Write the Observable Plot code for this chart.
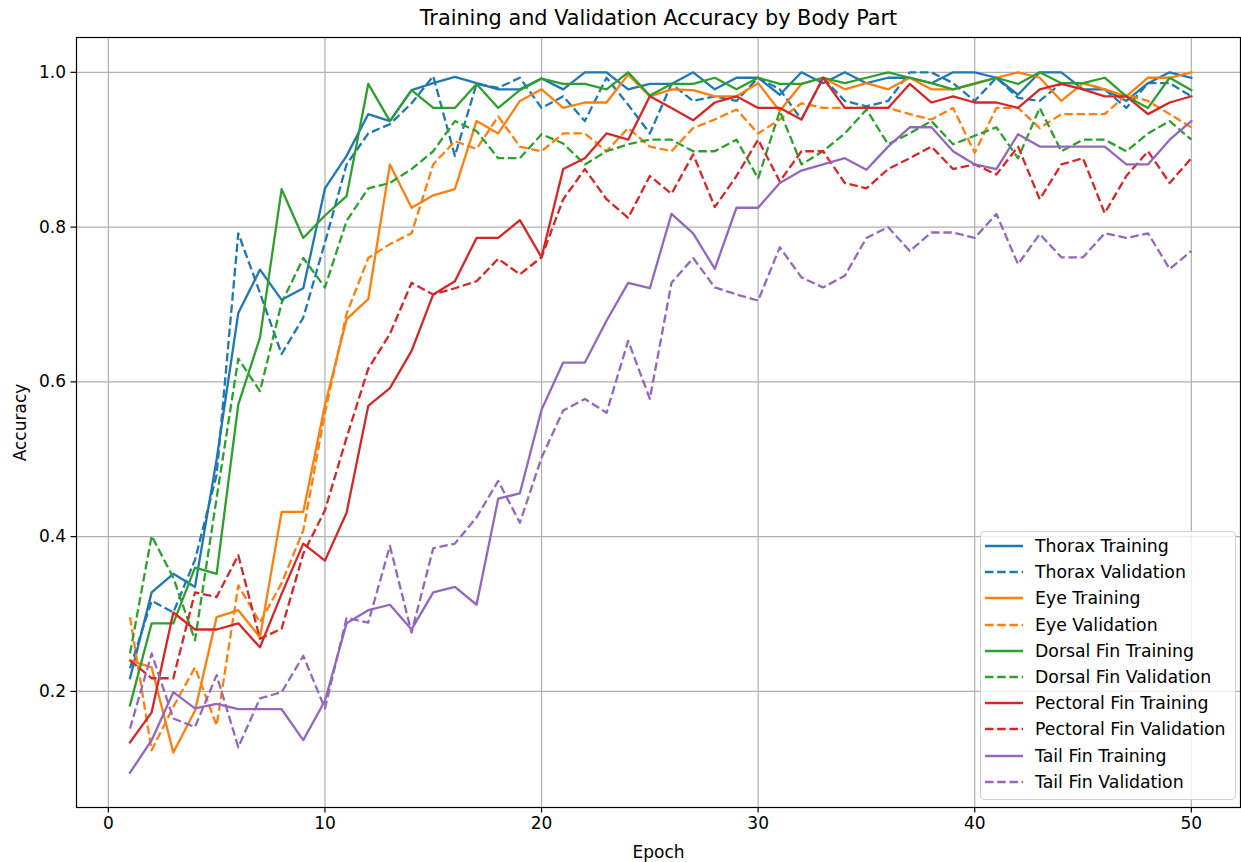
<!DOCTYPE html>
<html>
<head>
<meta charset="utf-8">
<script src="https://cdn.jsdelivr.net/npm/d3@7"></script>
<script src="https://cdn.jsdelivr.net/npm/@observablehq/plot@0.6"></script>
<style>
  html, body { margin: 0; padding: 0; background: white; }
  #wrap { position: relative; width: 1241px; height: 862px; font-family: "DejaVu Sans", sans-serif; }
  #legend { position: absolute; left: 980px; top: 531px; width: 254px; height: 267px;
    border: 1px solid #d0d0d0; border-radius: 4px; background: rgba(255,255,255,0.8); }
  .row { position: absolute; left: 0; height: 20px; display: flex; align-items: center; font-size: 17.3px; color: #000; white-space: nowrap; }
  .row svg { margin-left: 4px; margin-right: 12px; }
</style>
</head>
<body>
<div id="wrap"></div>
<script>
const epochs = d3.range(1, 51);

const thoraxTrain = [0.217,0.328,0.352,0.335,0.50,0.689,0.745,0.706,0.721,0.850, 0.892,0.946,0.937,0.977,0.986,0.994,0.986,0.978,0.978,0.992, 0.978,1.0,1.0,0.978,0.985,0.985,1.0,0.978,0.993,0.993, 0.971,1.0,0.986,1.0,0.986,0.993,0.993,0.986,1.0,1.0, 0.993,0.971,1.0,1.0,0.978,0.978,0.963,0.986,1.0,0.993];
const thoraxVal = [0.23,0.317,0.302,0.37,0.48,0.792,0.715,0.636,0.683,0.78, 0.881,0.921,0.933,0.96,0.995,0.892,0.985,0.980,0.993,0.954, 0.969,0.937,0.993,0.958,0.921,0.985,0.963,0.969,0.963,0.993, 0.978,0.939,0.993,0.963,0.956,0.963,1.0,1.0,0.986,0.963, 0.993,0.967,0.963,0.986,0.986,0.978,0.954,0.986,0.986,0.969];
const eyeTrain = [0.240,0.231,0.121,0.175,0.296,0.305,0.270,0.432,0.432,0.57, 0.681,0.707,0.881,0.825,0.841,0.849,0.937,0.921,0.963,0.978, 0.954,0.961,0.961,0.997,0.969,0.978,0.977,0.969,0.969,0.986, 0.950,0.985,0.993,0.978,0.986,0.978,0.993,0.978,0.978,0.986, 0.993,1.0,0.993,0.963,0.986,0.978,0.969,0.993,0.993,1.0];
const eyeVal = [0.296,0.124,0.180,0.231,0.156,0.337,0.289,0.34,0.408,0.56, 0.688,0.760,0.778,0.792,0.881,0.911,0.901,0.943,0.904,0.898, 0.921,0.921,0.898,0.928,0.904,0.898,0.928,0.939,0.952,0.921, 0.939,0.960,0.954,0.954,0.954,0.954,0.946,0.939,0.954,0.896, 0.954,0.954,0.928,0.946,0.946,0.946,0.971,0.963,0.946,0.929];
const dorsalTrain = [0.182,0.288,0.288,0.360,0.352,0.571,0.657,0.849,0.786,0.815, 0.840,0.985,0.937,0.977,0.954,0.954,0.985,0.954,0.977,0.992, 0.985,0.985,0.978,1.0,0.970,0.985,0.985,0.993,0.978,0.993, 0.985,0.985,0.993,0.986,0.993,1.0,0.993,0.986,0.978,0.985, 0.993,0.985,1.0,0.986,0.986,0.993,0.969,0.954,0.993,0.977];
const dorsalVal = [0.249,0.401,0.347,0.266,0.45,0.630,0.588,0.702,0.760,0.722, 0.808,0.850,0.857,0.875,0.898,0.937,0.924,0.889,0.889,0.920, 0.908,0.881,0.898,0.907,0.913,0.913,0.898,0.898,0.913,0.863, 0.950,0.881,0.898,0.921,0.952,0.907,0.921,0.937,0.907,0.918, 0.929,0.889,0.954,0.898,0.913,0.913,0.898,0.921,0.937,0.913];
const pectoralTrain = [0.134,0.173,0.302,0.280,0.280,0.288,0.257,0.326,0.391,0.369, 0.431,0.569,0.592,0.640,0.713,0.730,0.786,0.786,0.809,0.761, 0.875,0.889,0.921,0.913,0.969,0.954,0.938,0.961,0.969,0.954, 0.954,0.939,0.993,0.954,0.954,0.954,0.985,0.961,0.969,0.961, 0.961,0.954,0.978,0.985,0.978,0.969,0.969,0.946,0.961,0.969];
const pectoralVal = [0.240,0.217,0.217,0.328,0.322,0.376,0.268,0.281,0.378,0.434, 0.528,0.617,0.662,0.728,0.713,0.721,0.730,0.759,0.739,0.761, 0.836,0.875,0.836,0.812,0.866,0.843,0.894,0.826,0.866,0.913, 0.859,0.898,0.898,0.857,0.850,0.875,0.889,0.904,0.875,0.881, 0.868,0.904,0.836,0.881,0.889,0.818,0.866,0.898,0.857,0.889];
const tailTrain = [0.095,0.137,0.199,0.178,0.184,0.177,0.177,0.177,0.137,0.188, 0.288,0.305,0.312,0.280,0.328,0.335,0.312,0.449,0.456,0.564, 0.625,0.625,0.679,0.728,0.721,0.817,0.792,0.746,0.825,0.825, 0.857,0.873,0.881,0.889,0.874,0.904,0.929,0.929,0.898,0.881, 0.875,0.920,0.904,0.904,0.904,0.904,0.881,0.881,0.913,0.937];
const tailVal = [0.152,0.249,0.165,0.154,0.221,0.128,0.191,0.199,0.246,0.178, 0.295,0.289,0.388,0.276,0.385,0.391,0.425,0.472,0.418,0.502, 0.563,0.578,0.560,0.653,0.578,0.728,0.760,0.722,0.713,0.705, 0.774,0.735,0.722,0.737,0.786,0.800,0.769,0.793,0.793,0.786, 0.817,0.752,0.791,0.761,0.761,0.792,0.786,0.792,0.746,0.769];

const bodyParts = ["Thorax", "Eye", "Dorsal Fin", "Pectoral Fin", "Tail Fin"];
const colors = ["#1f77b4", "#ff7f0e", "#2ca02c", "#d62728", "#9467bd"];
const seriesValues = [
  [thoraxTrain, thoraxVal], [eyeTrain, eyeVal], [dorsalTrain, dorsalVal],
  [pectoralTrain, pectoralVal], [tailTrain, tailVal]
];
const xTicks = [0, 10, 20, 30, 40, 50];
const yTicks = [0.2, 0.4, 0.6, 0.8, 1.0];
const DASH = "8.5,3.7";
const LW = 2.3;

const series = [];
bodyParts.forEach((bp, i) => {
  series.push({name: bp + " Training", color: colors[i], dash: null, values: seriesValues[i][0]});
  series.push({name: bp + " Validation", color: colors[i], dash: DASH, values: seriesValues[i][1]});
});

const lineMarks = series.map(s =>
  Plot.line(s.values.map((v, j) => ({epoch: epochs[j], value: v})), {
    x: "epoch", y: "value", stroke: s.color, strokeWidth: LW,
    strokeDasharray: s.dash, strokeLinejoin: "round", strokeLinecap: s.dash ? "butt" : "square"
  })
);

const chart = Plot.plot({
  width: 1241, height: 862,
  marginLeft: 76, marginRight: 1, marginTop: 37, marginBottom: 55,
  x: {domain: [-1.47, 52.27]},
  y: {domain: [0.05, 1.045]},
  style: {fontFamily: "DejaVu Sans", fontSize: "17px", color: "black", background: "white"},
  marks: [
    Plot.gridX(xTicks, {stroke: "#b0b0b0", strokeOpacity: 1, strokeWidth: 1.2}),
    Plot.gridY(yTicks, {stroke: "#b0b0b0", strokeOpacity: 1, strokeWidth: 1.2}),
    ...lineMarks,
    Plot.frame({stroke: "black", strokeWidth: 1.2}),
    Plot.axisX(xTicks, {tickSize: 5.5, tickPadding: 4, fontSize: 17, label: null, strokeWidth: 1.2}),
    Plot.axisY(yTicks, {tickSize: 5.5, tickPadding: 5, fontSize: 17, label: null, tickFormat: d3.format(".1f"), strokeWidth: 1.2}),
    Plot.text(["Training and Validation Accuracy by Body Part"], {frameAnchor: "top", dy: -19, lineAnchor: "middle", fontSize: 20.8}),
    Plot.text(["Epoch"], {frameAnchor: "bottom", dy: 45, lineAnchor: "middle", fontSize: 17}),
    Plot.text(["Accuracy"], {frameAnchor: "left", dx: -56, rotate: -90, lineAnchor: "middle", textAnchor: "middle", fontSize: 17})
  ]
});

const wrap = document.getElementById("wrap");
wrap.appendChild(chart);

const legend = document.createElement("div");
legend.id = "legend";
series.forEach((s, i) => {
  const row = document.createElement("div");
  row.className = "row";
  row.style.top = (4 + i * 26.2) + "px";
  row.innerHTML = `<svg width="38" height="4"><line x1="0" y1="2" x2="38" y2="2" stroke="${s.color}" stroke-width="${LW}" ${s.dash ? `stroke-dasharray="${s.dash}"` : ""}/></svg><span>${s.name}</span>`;
  legend.appendChild(row);
});
wrap.appendChild(legend);
</script>
</body>
</html>
